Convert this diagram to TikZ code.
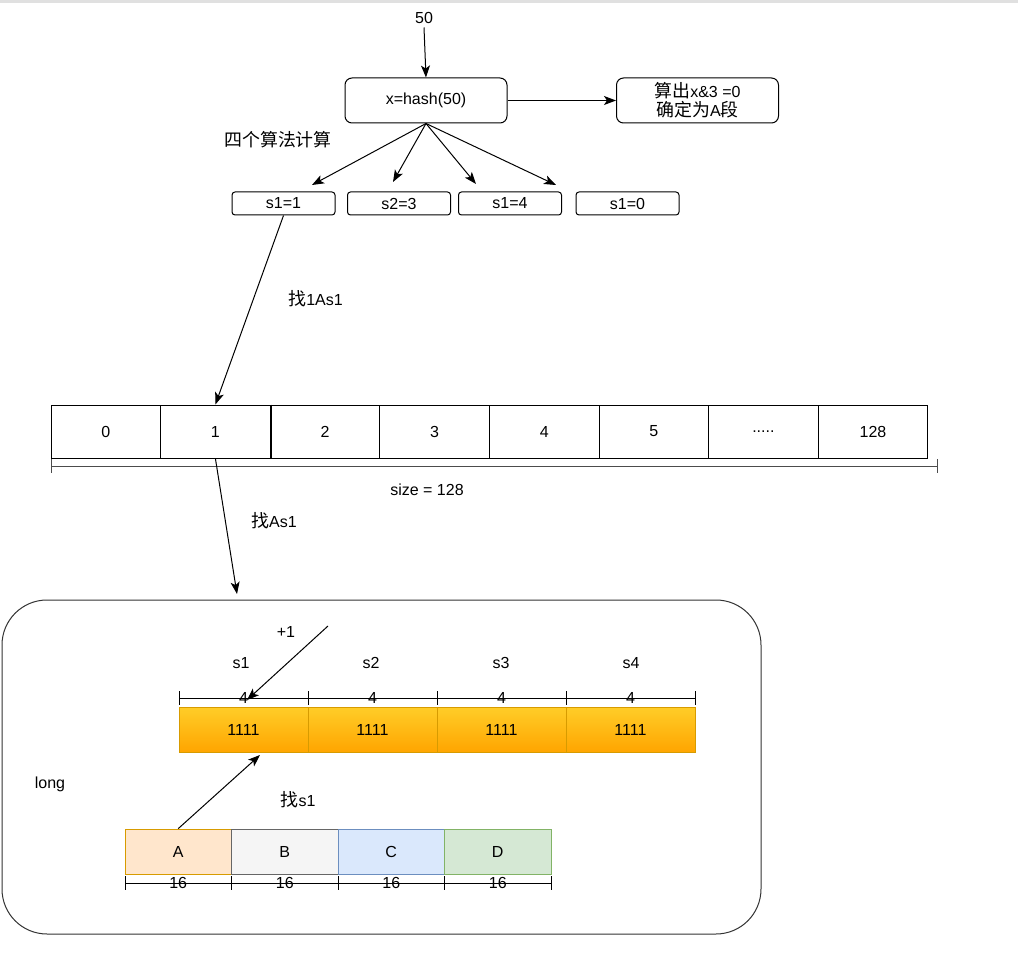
\documentclass[tikz,border=0pt]{standalone}
\usepackage{fontspec}
\setmainfont{Liberation Sans}
\newfontfamily\cjk[Scale=1.12]{Noto Sans CJK SC}
\usetikzlibrary{arrows.meta}
\definecolor{orgtop}{HTML}{FFCD28}
\definecolor{orgbot}{HTML}{FFA500}
\definecolor{orgline}{HTML}{D79B00}
\definecolor{afill}{HTML}{FFE6CC}
\definecolor{bfill}{HTML}{F5F5F5}
\definecolor{bline}{HTML}{666666}
\definecolor{cfill}{HTML}{DAE8FC}
\definecolor{cline}{HTML}{6C8EBF}
\definecolor{dfill}{HTML}{D5E8D4}
\definecolor{dline}{HTML}{82B366}
\newcommand\celldots{.....}
\begin{document}
\begin{tikzpicture}[x=1pt,y=-1pt,line width=1pt,
  font=\fontsize{16}{19}\selectfont,
  >={Stealth[length=12pt,width=9pt,inset=3pt]},
  box/.style={draw,rounded corners=7pt,minimum width=162pt,minimum height=45pt,inner sep=0pt,align=center},
  smallbox/.style={draw,rounded corners=3pt,minimum width=103pt,minimum height=23pt,inner sep=0pt},
  cell/.style={draw,minimum width=109.6pt,minimum height=53pt,inner sep=0pt},
  bits/.style={draw=orgline,line width=0.5pt,top color=orgtop,bottom color=orgbot,minimum width=129pt,minimum height=45pt,inner sep=0pt},
  seg/.style={draw,line width=0.8pt,minimum width=106.5pt,minimum height=45pt,inner sep=0pt}]
  \useasboundingbox (0,0) rectangle (1018,960);
  \fill[black!12] (0,0) rectangle (1018,3);

  % input and hash
  \node (in) at (424,18) {50};
  \node[box] (hash) at (426,100.5) {x=hash(50)};
  \node[box] (seg) at (697.5,100.5) {{\cjk 算出}x\&3 =0\\{\cjk 确定为}A{\cjk 段}};
  \draw[->] (in.south) -- (hash.north);
  \draw[->] (hash.east) -- (seg.west);

  % four algorithms
  \node (algo) at (278,140) {\cjk 四个算法计算};
  \node[smallbox] (s11) at (283.5,203.5) {s1=1};
  \node[smallbox] (s23) at (399,203.5) {s2=3};
  \node[smallbox] (s14) at (510,203.5) {s1=4};
  \node[smallbox] (s10) at (627.5,203.5) {s1=0};
  \coordinate (t1) at (312,185);
  \coordinate (t2) at (393,182);
  \coordinate (t3) at (476,184);
  \coordinate (t4) at (556,185);
  \foreach \t in {t1,t2,t3,t4}
    \draw[->] (hash.south) -- (\t);

  % array of size 128
  \foreach \i/\v in {0/0,1/1,2/2,3/3,4/4,5/5,6/\celldots,7/128}
    \node[cell] (c\i) at ({105.8+109.6*\i},431.5) {\v};
  \draw[line width=2pt] (c1.north east) -- (c1.south east);
  \draw[->] (s11.south) -- node[pos=0.44,right=31pt] {{\cjk 找}1As1} (c1.north);
  \draw[black!70] (51,466) -- (937,466);
  \draw[black!70] (51,459) -- (51,473) (937,459) -- (937,473);
  \node (size) at (427,490) {size = 128};
  \coordinate (tl) at (237,594);
  \draw[->] (c1.south) -- node[pos=0.46,right=22pt] {{\cjk 找}As1} (tl);

  % the long value
  \draw[black!80,rounded corners=45pt] (2,600) rectangle (761,934);
  \node (long) at (50,784) {long};
  \foreach \i in {1,...,4} {
    \node (l\i) at ({241+130*(\i-1)},663) {s\i};
    \node[bits] (b\i) at ({243.5+129*(\i-1)},729.5) {1111};
    \draw ({179+129*(\i-1)},691) -- ({179+129*(\i-1)},705);
    \node[inner sep=0pt] at ({243.5+129*(\i-1)},698) {4};
  }
  \draw (179,698) -- (695,698);
  \draw (695,691) -- (695,705);
  \coordinate (p1) at (328,626);
  \coordinate (p2) at (247,700);
  \node (plus) at (286,632) {+1};
  \draw[->] (p1) -- (p2);

  % segments A B C D
  \node[seg,fill=afill,draw=orgline] (sA) at (178.25,851.5) {A};
  \node[seg,fill=bfill,draw=bline] (sB) at (284.75,851.5) {B};
  \node[seg,fill=cfill,draw=cline] (sC) at (391.25,851.5) {C};
  \node[seg,fill=dfill,draw=dline] (sD) at (497.75,851.5) {D};
  \draw (125,883) -- (551,883);
  \foreach \x in {125,231.5,338,444.5,551}
    \draw (\x,876) -- (\x,890);
  \foreach \x in {178.25,284.75,391.25,497.75}
    \node[inner sep=0pt] at (\x,883) {16};
  \coordinate (fs) at (260,755);
  \node (find) at (298,800) {{\cjk 找}s1};
  \draw[->] (sA.north) -- (fs);
\end{tikzpicture}
\end{document}
